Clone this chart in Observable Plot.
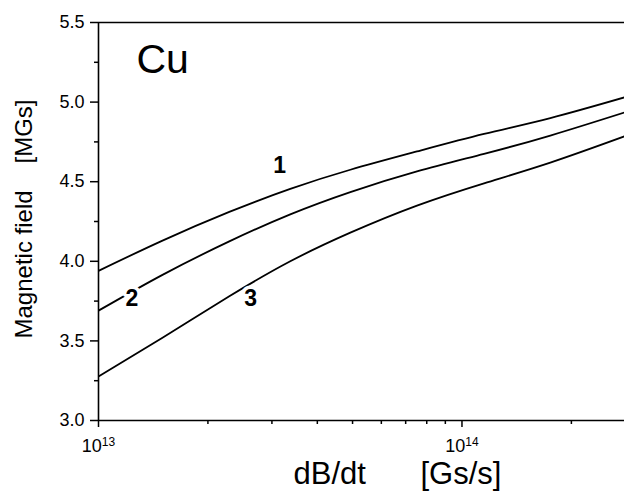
<!DOCTYPE html>
<html><head><meta charset="utf-8">
<script src="https://cdn.jsdelivr.net/npm/d3@7"></script>
<script src="https://cdn.jsdelivr.net/npm/@observablehq/plot@0.6"></script>
<style>
body{margin:0;background:#fff}
svg{font-family: Arial, "Liberation Sans", sans-serif}
</style>
</head><body><div id="chart"></div>
<script>
// dB/dt values [Gs/s]
const dBdt = [1.0e13, 1.5e13, 2.29e13, 3.37e13, 4.93e13, 7.52e13, 1.15e14, 1.75e14, 2.8e14];
// Magnetic field [MGs]
const curve1 = [3.94, 4.13, 4.31, 4.455, 4.575, 4.69, 4.80, 4.9, 5.03];
const curve2 = [3.69, 3.915, 4.125, 4.295, 4.435, 4.565, 4.675, 4.79, 4.935];
const curve3 = [3.276, 3.52, 3.78, 4.0, 4.18, 4.35, 4.49, 4.62, 4.785];
const seriesNames = ["1", "2", "3"];
const labelX = [3.15e13, 1.235e13, 2.62e13];
const labelY = [4.60, 3.764, 3.764];
const xMajorTicks = [1e13, 1e14];
const xMinorTicks = [2e13, 3e13, 4e13, 5e13, 6e13, 7e13, 8e13, 9e13, 2e14];
const yMajorTicks = [3.0, 3.5, 4.0, 4.5, 5.0, 5.5];
const yMinorTicks = [3.25, 3.75, 4.25, 4.75, 5.25];

const allCurves = [curve1, curve2, curve3];
const data = [];
allCurves.forEach((c, i) => c.forEach((v, j) => data.push({series: seriesNames[i], x: dBdt[j], y: v})));
const labels = seriesNames.map((s, i) => ({text: s, x: labelX[i], y: labelY[i]}));

const plot = Plot.plot({
  width: 624, height: 493,
  marginLeft: 98, marginTop: 22, marginRight: 0, marginBottom: 73,
  style: {fontFamily: 'Arial, "Liberation Sans", sans-serif', fontSize: "18px", color: "black", background: "white"},
  x: {type: "log", domain: [1e13, 2.8e14]},
  y: {domain: [3, 5.5]},
  marks: [
    Plot.line(data, {x: "x", y: "y", z: "series", stroke: "black", strokeWidth: 1.8, curve: "natural", clip: true}),
    Plot.text(labels, {x: "x", y: "y", text: "text", fontWeight: "bold", fontSize: 23, fill: "black", stroke: "white", strokeWidth: 7}),
    Plot.axisX({ticks: xMajorTicks, tickSize: 7, tickPadding: 12, strokeWidth: 1.5, tickFormat: d => String(Math.round(Math.log10(d))), label: null, fontSize: 18}),
    Plot.axisX({ticks: xMinorTicks, tickSize: 4, strokeWidth: 1.5, tickFormat: () => "", label: null}),
    Plot.axisY({ticks: yMajorTicks, tickSize: 8, tickPadding: 6, strokeWidth: 1.5, tickFormat: d3.format(".1f"), label: null, fontSize: 18}),
    Plot.axisY({ticks: yMinorTicks, tickSize: 4, strokeWidth: 1.5, tickFormat: () => "", label: null}),
    Plot.ruleX([1e13], {strokeWidth: 1.6}),
    Plot.ruleY([3, 5.5], {strokeWidth: 1.6}),
    Plot.text(["Cu"], {frameAnchor: "top-left", dx: 38, dy: 21, fontSize: 41, textAnchor: "start", lineAnchor: "top"}),
    Plot.text(["dB/dt"], {frameAnchor: "bottom-left", dx: 195, dy: 54, fontSize: 31, textAnchor: "start", lineAnchor: "middle"}),
    Plot.text(["[Gs/s]"], {frameAnchor: "bottom-left", dx: 322, dy: 54, fontSize: 31, textAnchor: "start", lineAnchor: "middle"}),
    Plot.text(["Magnetic field"], {frameAnchor: "left", dx: -74, dy: 117, fontSize: 24, rotate: -90, textAnchor: "start", lineAnchor: "middle"}),
    Plot.text(["[MGs]"], {frameAnchor: "left", dx: -74, dy: -58, fontSize: 24, rotate: -90, textAnchor: "start", lineAnchor: "middle"})
  ]
});
document.getElementById("chart").appendChild(plot);

// render x tick labels as 10 with superscript exponent
d3.select(plot).selectAll('g[aria-label="x-axis tick label"] text').each(function() {
  const t = d3.select(this);
  const exp = t.text();
  if (!exp) return;
  t.text(null);
  t.append("tspan").text("10");
  t.append("tspan").attr("dy", "-0.5em").attr("font-size", "12px").text(exp);
});
</script>
</body></html>
